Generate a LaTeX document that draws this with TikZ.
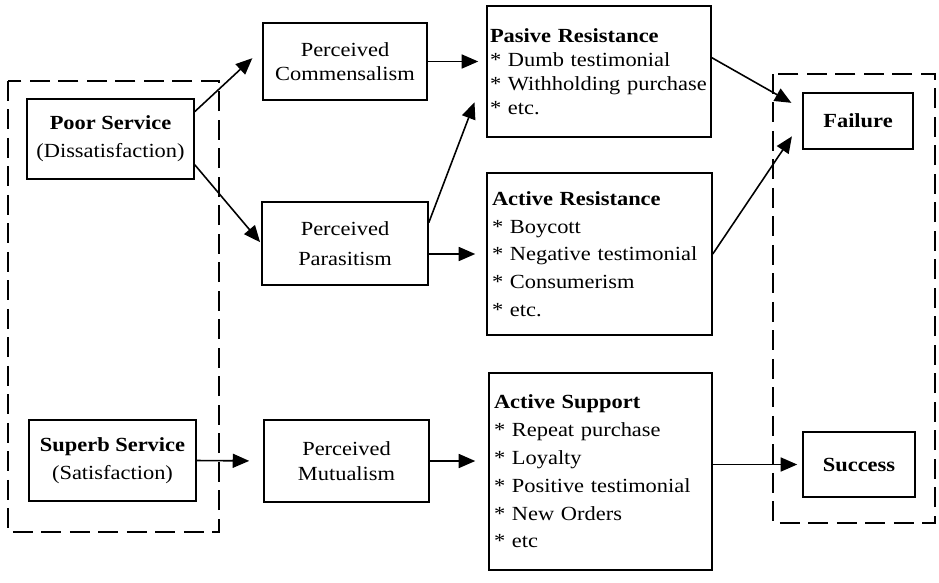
\documentclass[tikz,border=0pt]{standalone}
\usepackage{fontspec}
\setmainfont{Liberation Serif}[FakeStretch=1.12]
\usetikzlibrary{arrows.meta}

\tikzset{
  box/.style={draw, line width=0.9pt, inner sep=0pt, align=center},
  listbox/.style={box, align=left},
  arr/.style={-{Triangle[length=0.33cm,width=0.28cm]}, line width=0.9pt},
  group/.style={dash pattern=on 0.4cm off 0.17cm, line width=1pt}
}

\begin{document}
\begin{tikzpicture}[x=0.02cm, y=-0.02cm, font=\fontsize{11.4}{15.8}\selectfont]
  \useasboundingbox (0,0) rectangle (939,582);
  % ---------------------------------------------------------------- service quality
  \draw[group] (8,81) rectangle (219,532);
  \node[box, minimum width=3.34cm, minimum height=1.6cm] (poor) at (110.5,139)
    {\textbf{Poor Service}\\(Dissatisfaction)};
  \node[box, minimum width=3.34cm, minimum height=1.62cm] (superb) at (112.5,460.5)
    {\textbf{Superb Service}\\(Satisfaction)};
  % ---------------------------------------------------------------- perceived relation
  \node[box, minimum width=3.28cm, minimum height=1.54cm, font=\fontsize{11.4}{13.5}\selectfont] (comm) at (345,61.5)
    {Perceived\\Commensalism};
  \node[box, minimum width=3.32cm, minimum height=1.66cm, font=\fontsize{11.4}{17}\selectfont] (parasit) at (345,243.5)
    {Perceived\\Parasitism};
  \node[box, minimum width=3.3cm, minimum height=1.64cm, font=\fontsize{11.4}{14.5}\selectfont] (mutual) at (346.5,461)
    {Perceived\\Mutualism};
  % ---------------------------------------------------------------- customer behaviour
  \node[listbox, minimum width=4.48cm, minimum height=2.62cm, text width=4.36cm, font=\fontsize{11.4}{13.6}\selectfont] (pasive) at (599,71.5)
    {\textbf{Pasive Resistance}\\{*} Dumb testimonial\\{*} Withholding purchase\\{*} etc.};
  \node[listbox, minimum width=4.5cm, minimum height=3.24cm, text width=4.3cm] (actres) at (599.5,254)
    {\textbf{Active Resistance}\\{*} Boycott\\{*} Negative testimonial\\{*} Consumerism\\{*} etc.};
  \node[listbox, minimum width=4.46cm, minimum height=3.94cm, text width=4.26cm] (actsup) at (600.5,471.5)
    {\textbf{Active Support}\\{*} Repeat purchase\\{*} Loyalty\\{*} Positive testimonial\\{*} New Orders\\{*} etc};
  % ---------------------------------------------------------------- outcome
  \draw[group] (773,74) rectangle (935,523);
  \node[box, minimum width=2.2cm, minimum height=1.12cm] (failure) at (858,121) {\textbf{Failure}};
  \node[box, minimum width=2.24cm, minimum height=1.3cm] (success) at (859,464.5) {\textbf{Success}};
  % ---------------------------------------------------------------- arrows
  \draw[arr, shorten >=0.27cm] (poor.18) -- ([yshift=0.25cm]comm.west);
  \draw[arr, shorten >=1pt] (poor.-17) -- (parasit.west);
  \draw[arr, shorten >=0.16cm] (comm.east) -- (comm.east -| pasive.west);
  \draw[arr, shorten >=0.66cm] (parasit.14.5) -- (pasive.west);
  \draw[arr, shorten >=0.22cm] (parasit.east |- actres.west) -- (actres.west);
  \draw[arr, shorten >=0.28cm] (superb.east) -- (mutual.west);
  \draw[arr, shorten >=0.26cm] (mutual.east) -- (mutual.east -| actsup.west);
  \draw[arr, shorten >=0.25cm] (pasive.7.4) -- ([yshift=0.24cm]failure.west);
  \draw[arr, shorten >=0.37cm] (actres.east) -- (failure.west);
  \draw[arr, shorten >=0.1cm] (actsup.east |- success.west) -- (success.west);
\end{tikzpicture}
\end{document}
